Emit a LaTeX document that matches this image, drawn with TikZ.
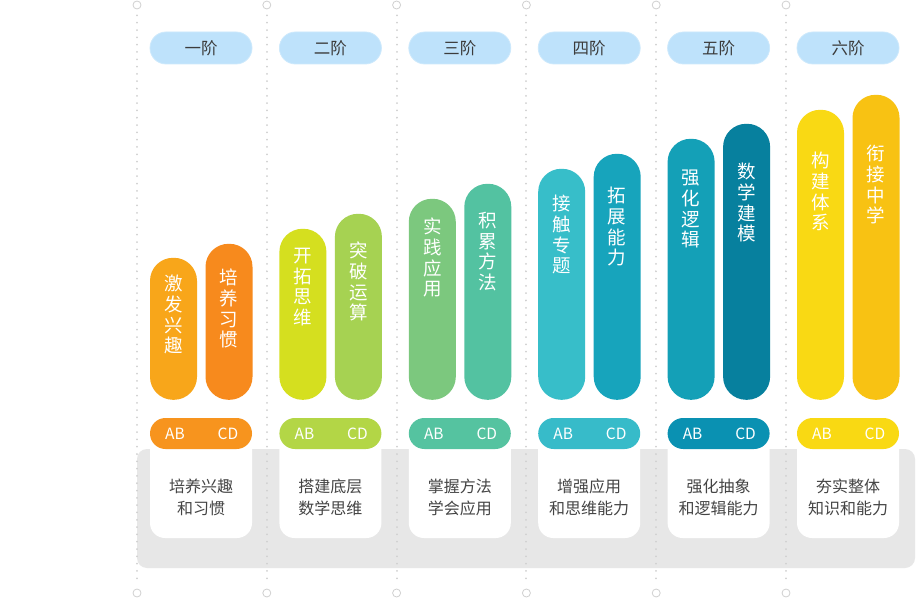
\documentclass[tikz,border=0pt]{standalone}
\usepackage{fontspec}
\setmainfont{Noto Sans CJK SC}
\definecolor{stagebg}{HTML}{BEE2FB}
\definecolor{stageedge}{HTML}{CDE9FC}
\definecolor{stagetx}{HTML}{3C3C3C}
\definecolor{bandgray}{HTML}{E7E7E7}
\definecolor{dotgray}{HTML}{D0D0D0}
\definecolor{cardtx}{HTML}{444444}
\definecolor{cOa}{HTML}{F8A61A}\definecolor{cOb}{HTML}{F78A1D}\definecolor{cOp}{HTML}{F7941E}
\definecolor{cTa}{HTML}{D5DF1F}\definecolor{cTb}{HTML}{A6D252}\definecolor{cTp}{HTML}{B3D646}
\definecolor{cHa}{HTML}{7CC87E}\definecolor{cHb}{HTML}{53C2A1}\definecolor{cHp}{HTML}{55C3A0}
\definecolor{cFa}{HTML}{37BEC9}\definecolor{cFb}{HTML}{17A4BC}\definecolor{cFp}{HTML}{37BBC9}
\definecolor{cVa}{HTML}{14A0B7}\definecolor{cVb}{HTML}{07809E}\definecolor{cVp}{HTML}{0A91B2}
\definecolor{cSa}{HTML}{F9D914}\definecolor{cSb}{HTML}{F8C213}\definecolor{cSp}{HTML}{F9D913}
\begin{document}
\begin{tikzpicture}[x=1pt,y=-1pt,
  ring/.style={circle,draw=dotgray,fill=white,line width=0.8pt,minimum size=8pt,inner sep=0pt},
  dotline/.style={draw=dotgray,line width=2pt,line cap=round,dash pattern=on 0.01pt off 7.3pt},
  band/.style={fill=bandgray,rounded corners=10pt,minimum width=778pt,minimum height=119pt,inner sep=0pt},
  stage/.style={fill=stagebg,draw=stageedge,line width=0.8pt,rounded corners=16pt,minimum width=102pt,minimum height=32pt,inner sep=0pt,text=stagetx,font=\fontsize{16.5}{16.5}\selectfont},
  bar/.style={rounded corners=23pt,minimum width=47pt,inner sep=0pt,anchor=south},
  bartext/.style={anchor=north,inner sep=0pt,align=center,text=white,font=\fontsize{18.5}{20.7}\selectfont},
  abpill/.style={rounded corners=15.5pt,minimum width=102pt,minimum height=31pt,inner sep=0pt},
  abtext/.style={inner sep=0pt,text=white,font=\fontsize{15.5}{15.5}\selectfont},
  card/.style={fill=white,rounded corners=15pt,minimum width=102pt,minimum height=104pt,inner sep=0pt},
  cardtext/.style={inner sep=0pt,align=center,text=cardtx,font=\fontsize{16}{22}\selectfont}
]
\useasboundingbox (0,0) rectangle (916,599);
\fill[white] (0,0) rectangle (916,599);
% grey band
\node[band] (band) at (526,508.5) {};
% dotted separators
\node[ring] (t0) at (137,5) {};   \node[ring] (u0) at (137,593) {};
\node[ring] (t1) at (266.8,5) {}; \node[ring] (u1) at (266.8,593) {};
\node[ring] (t2) at (396.6,5) {}; \node[ring] (u2) at (396.6,593) {};
\node[ring] (t3) at (526.4,5) {}; \node[ring] (u3) at (526.4,593) {};
\node[ring] (t4) at (656.2,5) {}; \node[ring] (u4) at (656.2,593) {};
\node[ring] (t5) at (786,5) {};   \node[ring] (u5) at (786,593) {};
\foreach \i in {0,...,5} \draw[dotline] ([yshift=-6pt]t\i.south) -- ([yshift=6pt]u\i.north);
% stage pills
\node[stage] (s1) at (201,48) {一阶};
\node[stage] (s2) at (330.4,48) {二阶};
\node[stage] (s3) at (459.8,48) {三阶};
\node[stage] (s4) at (589.2,48) {四阶};
\node[stage] (s5) at (718.6,48) {五阶};
\node[stage] (s6) at (848,48) {六阶};
% bars
\node[bar,fill=cOa,minimum height=142pt] (b1a) at (173.5,400) {};
\node[bar,fill=cOb,minimum height=156pt] (b1b) at (229,400) {};
\node[bar,fill=cTa,minimum height=171pt] (b2a) at (302.9,400) {};
\node[bar,fill=cTb,minimum height=186pt] (b2b) at (358.4,400) {};
\node[bar,fill=cHa,minimum height=201pt] (b3a) at (432.3,400) {};
\node[bar,fill=cHb,minimum height=216pt] (b3b) at (487.8,400) {};
\node[bar,fill=cFa,minimum height=231pt] (b4a) at (561.7,400) {};
\node[bar,fill=cFb,minimum height=246pt] (b4b) at (617.2,400) {};
\node[bar,fill=cVa,minimum height=261pt] (b5a) at (691.1,400) {};
\node[bar,fill=cVb,minimum height=276pt] (b5b) at (746.6,400) {};
\node[bar,fill=cSa,minimum height=290pt] (b6a) at (820.5,400) {};
\node[bar,fill=cSb,minimum height=305pt] (b6b) at (876,400) {};
% bar texts
\node[bartext] (x1a) at (173.5,275) {激\\发\\兴\\趣};
\node[bartext] (x1b) at (229,269) {培\\养\\习\\惯};
\node[bartext] (x2a) at (302.9,248) {开\\拓\\思\\维};
\node[bartext] (x2b) at (358.4,242) {突\\破\\运\\算};
\node[bartext] (x3a) at (432.3,218) {实\\践\\应\\用};
\node[bartext] (x3b) at (487.8,212) {积\\累\\方\\法};
\node[bartext] (x4a) at (561.7,195) {接\\触\\专\\题};
\node[bartext] (x4b) at (617.2,187) {拓\\展\\能\\力};
\node[bartext] (x5a) at (691.1,170) {强\\化\\逻\\辑};
\node[bartext] (x5b) at (746.6,163) {数\\学\\建\\模};
\node[bartext] (x6a) at (820.5,152) {构\\建\\体\\系};
\node[bartext] (x6b) at (876,145) {衔\\接\\中\\学};
% white cards
\node[card] (c1) at (201,486) {};
\node[card] (c2) at (330.4,486) {};
\node[card] (c3) at (459.8,486) {};
\node[card] (c4) at (589.2,486) {};
\node[card] (c5) at (718.6,486) {};
\node[card] (c6) at (848,486) {};
\node[cardtext] (d1) at (201,497) {培养兴趣\\和习惯};
\node[cardtext] (d2) at (330.4,497) {搭建底层\\数学思维};
\node[cardtext] (d3) at (459.8,497) {掌握方法\\学会应用};
\node[cardtext] (d4) at (589.2,497) {增强应用\\和思维能力};
\node[cardtext] (d5) at (718.6,497) {强化抽象\\和逻辑能力};
\node[cardtext] (d6) at (848,497) {夯实整体\\知识和能力};
% AB / CD pills
\node[abpill,fill=cOp] (p1) at (201,433.5) {};
\node[abpill,fill=cTp] (p2) at (330.4,433.5) {};
\node[abpill,fill=cHp] (p3) at (459.8,433.5) {};
\node[abpill,fill=cFp] (p4) at (589.2,433.5) {};
\node[abpill,fill=cVp] (p5) at (718.6,433.5) {};
\node[abpill,fill=cSp] (p6) at (848,433.5) {};
\foreach \i/\cx in {1/201,2/330.4,3/459.8,4/589.2,5/718.6,6/848}{
  \node[abtext] (ab\i) at (\cx-26,434) {AB};
  \node[abtext] (cd\i) at (\cx+27,434) {CD};
}
\end{tikzpicture}
\end{document}
